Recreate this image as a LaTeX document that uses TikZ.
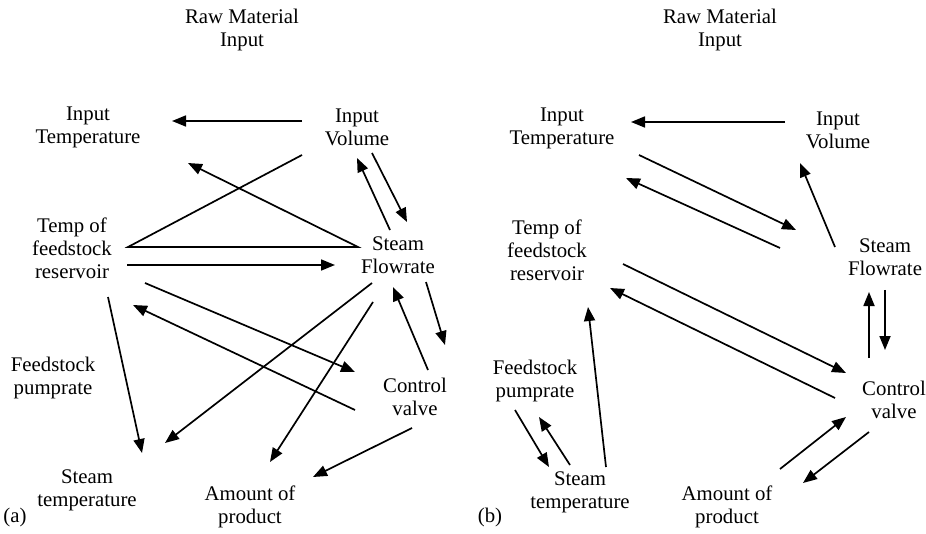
\documentclass[tikz,border=0pt]{standalone}
\usepackage{fontspec}
\setmainfont{Liberation Serif}
\usetikzlibrary{arrows.meta}
\begin{document}
\begin{tikzpicture}[x=0.5pt,y=-0.5pt]
        \tikzstyle{var}=[align=center,inner sep=1pt,font=\fontsize{10.4}{11.5}\selectfont]
        \tikzstyle{edge}=[draw,line width=0.85pt,-{Triangle[length=7pt,width=5.5pt]}]
        \useasboundingbox (0,0) rectangle (926,534);
       % (a)
       \begin{scope}
         \node [var] (rawA) at (242,30) {Raw Material\\Input};
         \node [var] (itA) at (88,127) {Input\\Temperature};
         \node [var] (ivA) at (357,127) {Input\\Volume};
         \node [var] (tfA) at (72,248) {Temp of\\feedstock\\reservoir};
         \node [var] (sfA) at (398,255) {Steam\\Flowrate};
         \node [var] (fpA) at (53,378) {Feedstock\\pumprate};
         \node [var] (cvA) at (415,397) {Control\\valve};
         \node [var] (stA) at (87,490) {Steam\\temperature};
         \node [var] (apA) at (250,507) {Amount of\\product};
         \node [var] (la) at (15,517) {(a)};
         \path[edge] ([shift={(-55,-6)}]ivA.center) -- ([shift={(84,-6)}]itA.center);
         \path[edge] ([shift={(-55,28)}]ivA.center) -- ([shift={(56,-1)}]tfA.center)
           -- ([shift={(-40,-8)}]sfA.center) -- ([shift={(100,36)}]itA.center);
         \path[edge] ([shift={(15,26)}]ivA.center) -- ([shift={(9,-33)}]sfA.center);
         \path[edge] ([shift={(-8,-25)}]sfA.center) -- ([shift={(0,31)}]ivA.center);
         \path[edge] ([shift={(55,17)}]tfA.center) -- ([shift={(-63,10)}]sfA.center);
         \path[edge] ([shift={(73,35)}]tfA.center) -- ([shift={(-60,-25)}]cvA.center);
         \path[edge] ([shift={(-60,13)}]cvA.center) -- ([shift={(61,57)}]tfA.center);
         \path[edge] ([shift={(36,49)}]tfA.center) -- ([shift={(55,-37)}]stA.center);
         \path[edge] ([shift={(-26,28)}]sfA.center) -- ([shift={(78,-47)}]stA.center);
         \path[edge] ([shift={(-25,47)}]sfA.center) -- ([shift={(20,-45)}]apA.center);
         \path[edge] ([shift={(13,-27)}]cvA.center) -- ([shift={(-5,32)}]sfA.center);
         \path[edge] ([shift={(28,27)}]sfA.center) -- ([shift={(30,-52)}]cvA.center);
         \path[edge] ([shift={(-3,31)}]cvA.center) -- ([shift={(63,-30)}]apA.center);
        \end{scope}
       % (b)
       \begin{scope}
         \node [var] (rawB) at (720,30) {Raw Material\\Input};
         \node [var] (itB) at (562,128) {Input\\Temperature};
         \node [var] (ivB) at (838,130) {Input\\Volume};
         \node [var] (tfB) at (547,250) {Temp of\\feedstock\\reservoir};
         \node [var] (sfB) at (885,257) {Steam\\Flowrate};
         \node [var] (fpB) at (535,381) {Feedstock\\pumprate};
         \node [var] (cvB) at (894,400) {Control\\valve};
         \node [var] (stB) at (580,492) {Steam\\temperature};
         \node [var] (apB) at (727,507) {Amount of\\product};
         \node [var] (lb) at (490,517) {(b)};
         \path[edge] ([shift={(-53,-8)}]ivB.center) -- ([shift={(69,-6)}]itB.center);
         \path[edge] ([shift={(77,27)}]itB.center) -- ([shift={(-89,-27)}]sfB.center);
         \path[edge] ([shift={(-105,-9)}]sfB.center) -- ([shift={(64,50)}]itB.center);
         \path[edge] ([shift={(-50,-10)}]sfB.center) -- ([shift={(-38,33)}]ivB.center);
         \path[edge] ([shift={(76,14)}]tfB.center) -- ([shift={(-48,-27)}]cvB.center);
         \path[edge] ([shift={(-59,-2)}]cvB.center) -- ([shift={(63,38)}]tfB.center);
         \path[edge] ([shift={(-25,-42)}]cvB.center) -- ([shift={(-16,35)}]sfB.center);
         \path[edge] ([shift={(0,33)}]sfB.center) -- ([shift={(-9,-50)}]cvB.center);
         \path[edge] ([shift={(-20,29)}]fpB.center) -- ([shift={(-31,-25)}]stB.center);
         \path[edge] ([shift={(-10,-27)}]stB.center) -- ([shift={(4,36)}]fpB.center);
         \path[edge] ([shift={(26,-25)}]stB.center) -- ([shift={(41,57)}]tfB.center);
         \path[edge] ([shift={(53,-38)}]apB.center) -- ([shift={(-48,17)}]cvB.center);
         \path[edge] ([shift={(-25,32)}]cvB.center) -- ([shift={(76,-24)}]apB.center);
        \end{scope}
\end{tikzpicture}
\end{document}
